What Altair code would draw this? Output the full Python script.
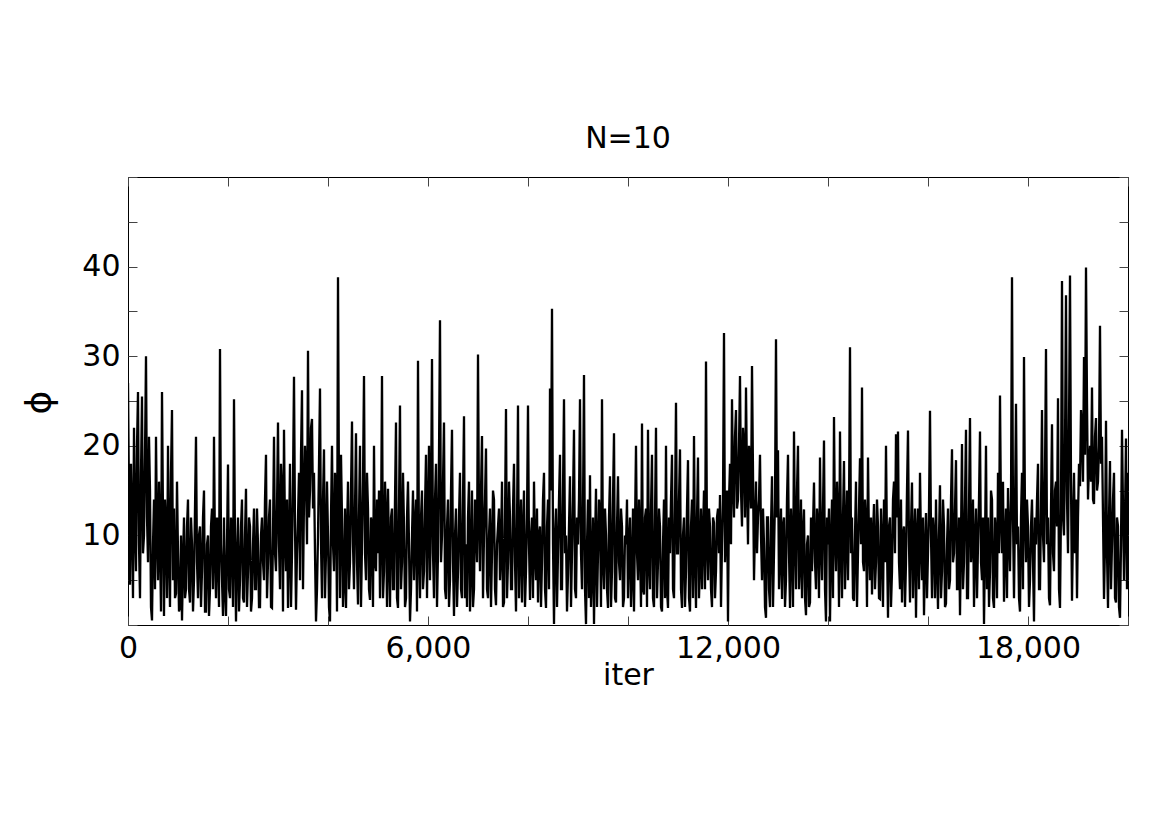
import altair as alt
import pandas as pd

# phi trace in 1,000-iteration blocks:
# "_a" lists are samples at iterations 0, 40, 80, ... of the block,
# "_b" lists are the samples 20 iterations after each "_a" sample.
phi_00k_a = [27, 4.5, 12, 22, 6, 26, 3, 25.5, 10, 30, 7, 15, 0.5, 14, 21, 5, 9, 26, 1, 11, 20, 2, 24, 13, 3.5]
phi_00k_b = [14, 18, 3, 11, 20, 9, 17, 8, 19, 12, 21, 2, 9, 4, 10, 16, 1.5, 12, 14, 3, 8, 17, 5, 3, 16]
phi_01k_a = [8, 2, 0.5, 12, 4, 14, 2.5, 9, 5, 21, 3, 11, 6, 15, 1.5, 10, 4, 13, 21, 3, 8, 30.8, 5, 12, 1]
phi_01k_b = [1.5, 10, 7, 3, 11, 4, 12, 1.5, 13, 7, 10, 2, 12, 1.5, 9, 1, 11, 4, 8, 12, 2, 9, 1, 4, 9]
phi_02k_a = [17.9, 3, 10, 25.2, 0.4, 12, 5, 14, 2.5, 15.2, 6, 11, 3, 13, 4, 9, 2, 12, 5, 19, 7, 14, 1.9, 21, 6]
phi_02k_b = [4, 12, 2, 9, 8, 1.5, 11, 3, 10, 2, 12, 1.5, 9, 4, 13, 2, 10, 7, 14, 3, 12, 2, 10, 8, 13]
phi_03k_a = [22.6, 4, 15, 21.8, 6, 1.9, 18, 8, 27.7, 1.7, 12, 5, 26.2, 14, 16, 30.6, 15, 23, 17, 0.4, 10, 26.4, 3, 19.6, 8]
phi_03k_b = [9, 18, 1.5, 10, 14, 9, 2, 16, 11, 8, 17, 19, 4, 20, 9, 12, 22, 13, 8, 4, 18, 9, 14, 3, 16]
phi_04k_a = [10, 0.4, 20, 6, 14, 38.8, 3, 12, 5, 1.9, 16, 7, 22.7, 4, 21.4, 2.3, 20, 9, 27.8, 5, 13, 2.8, 11, 20, 6]
phi_04k_b = [2, 12, 9, 17, 1.5, 14, 19, 2, 13, 10, 4, 15, 9, 13, 7, 12, 2, 16, 8, 17, 4, 12, 2, 7, 14]
phi_05k_a = [8, 3, 27.8, 6, 12, 15.2, 2, 13, 4, 22.6, 1.9, 24.5, 7, 11, 3, 16, 0.4, 10, 5, 14, 29.5, 3, 15, 6, 19]
phi_05k_b = [15, 10, 3, 16, 2, 8, 12, 4, 14, 3, 13, 4, 17, 2, 12, 9, 4, 15, 11, 1.5, 8, 12, 4, 13, 3]
phi_06k_a = [12, 5, 29.7, 3, 18, 8, 34, 10, 22.6, 2.9, 14, 5, 21.8, 1, 13, 6, 17, 3, 23.3, 9, 12, 1.5, 15, 4, 11]
phi_06k_b = [20, 13, 8, 14, 2, 19, 7, 16, 4, 11, 2, 15, 7, 10, 2, 12, 4, 14, 3, 2, 16, 7, 2, 14, 7]
phi_07k_a = [30.2, 6, 21.1, 10, 19.7, 3, 13, 8, 14, 2.2, 11, 5, 16, 2.5, 24.1, 7, 12, 4, 18, 1.5, 24.5, 9, 2.5, 15, 6]
phi_07k_b = [12, 15, 3, 14, 4, 10, 2, 15, 4, 9, 13, 8, 2, 12, 3, 16, 4, 13, 7, 11, 3, 14, 10, 2, 12]
phi_08k_a = [24.5, 2.8, 12, 16, 5, 2.5, 11, 7, 17, 1.9, 14, 26.4, 35.3, 0.1, 13, 8, 19, 4, 25.2, 10, 5.6, 16.6, 8, 21.8, 3]
phi_08k_b = [9, 10, 3, 8, 13, 10, 2, 14, 4, 11, 4, 15, 9, 10, 2, 14, 4, 15, 8, 1.5, 11, 2, 14, 4, 12]
phi_09k_a = [9, 25.2, 4, 27.9, 0.1, 14, 16.7, 6, 0.1, 15.2, 8, 12, 25.2, 4, 10, 1.9, 16.6, 6, 21.4, 2.5, 16.6, 5, 11, 3, 9]
phi_09k_b = [14, 8, 13, 4, 9, 3, 2, 12, 9, 2, 14, 2, 7, 13, 4, 12, 2, 14, 3, 11, 7, 13, 2, 10, 14]
phi_10k_a = [3, 12, 6, 1.5, 20, 5, 9, 22.5, 3.4, 13, 21.8, 4, 19, 2, 22, 7, 11, 1.5, 14, 20, 1.9, 8, 19, 3, 24.8]
phi_10k_b = [9, 2, 13, 11, 8, 14, 2, 4, 12, 2, 7, 13, 3, 12, 3, 13, 2, 9, 3, 4, 12, 14, 4, 13, 8]
phi_11k_a = [8, 19.6, 1.9, 12, 6, 18.4, 1.5, 14, 21.1, 1.9, 18.7, 7, 4, 15, 29.4, 5, 11, 2, 11.4, 6, 13, 14.5, 9, 32.6, 11]
phi_11k_b = [14, 4, 10, 2, 13, 3, 11, 3, 8, 12, 3, 13, 10, 4, 9, 13, 4, 12, 3, 12, 8, 2, 14, 7, 15]
phi_12k_a = [0.4, 18, 25.2, 12, 24, 14, 27.8, 11, 20, 26.5, 9, 17, 28.9, 5, 16, 12, 19, 5, 9, 0.8, 12, 2, 16.6, 8, 31.9]
phi_12k_b = [14, 9, 16, 21, 13, 20, 15, 22, 12, 16, 20, 13, 17, 11, 8, 14, 10, 13, 2, 12, 4, 11, 2, 14, 12]
phi_13k_a = [19.5, 8, 2.9, 12, 5, 19, 1.9, 9, 21.6, 4, 20, 7, 3, 12.9, 1.1, 10, 2.5, 6, 15.9, 4, 11, 18.7, 5, 20.6, 0.4]
phi_13k_b = [4, 13, 11, 2, 14, 8, 13, 2, 10, 15, 4, 14, 10, 3, 9, 2, 12, 11, 7, 13, 3, 9, 13, 4, 12]
phi_14k_a = [9, 0.4, 14, 23.2, 6, 12, 21.6, 3, 18.3, 10, 5, 31, 12, 2.7, 16, 8, 18.6, 26.5, 6, 11, 18.7, 5, 3.4, 13.5, 7]
phi_14k_b = [13, 9, 3, 10, 16, 2, 9, 12, 4, 15, 13, 8, 3, 10, 2, 13, 9, 7, 14, 2, 9, 12, 10, 4, 14]
phi_15k_a = [11, 2.9, 9, 14, 20, 0.8, 12, 6, 16, 21.3, 21.6, 4, 2.5, 11, 7, 21.7, 2.5, 15.9, 9, 0.8, 13, 17, 5, 1.1, 12.5]
phi_15k_b = [3, 13, 2, 7, 9, 11, 2, 14, 8, 12, 7, 14, 10, 2, 15, 9, 11, 3, 13, 10, 4, 9, 12, 8, 3]
phi_16k_a = [8, 23.9, 3, 10, 14, 1.8, 15.6, 6, 11, 2.4, 13, 5, 19.6, 8, 18.4, 4, 1.1, 20.2, 7, 21.8, 3, 23.1, 9, 2, 13]
phi_16k_b = [13, 10, 12, 3, 7, 10, 3, 14, 2, 9, 4, 14, 7, 13, 4, 12, 10, 4, 14, 3, 13, 7, 14, 9, 3]
phi_17k_a = [9, 21.6, 5, 0.1, 20, 12, 6, 14, 1.9, 10, 17, 25.6, 8, 2.6, 13, 15.3, 6, 38.8, 3, 24.7, 11, 1.5, 17, 29.9, 7]
phi_17k_b = [14, 7, 12, 9, 4, 2, 15, 3, 12, 3, 8, 12, 16, 9, 3, 10, 14, 12, 13, 9, 3, 12, 4, 12, 14]
phi_18k_a = [11, 5, 14, 0.4, 9, 18, 4, 24, 7, 30.8, 12, 2.2, 22.4, 6, 16, 25.3, 1.9, 38.4, 10, 36.8, 8, 39, 2.7, 17, 14]
phi_18k_b = [2, 11, 7, 12, 14, 4, 13, 10, 17, 9, 3, 13, 8, 15, 11, 4, 13, 12, 20, 14, 22, 16, 11, 8, 3]
phi_19k_a = [12, 15.5, 22, 29.9, 39.9, 14, 20, 26.5, 13.5, 23.1, 16, 33.4, 21, 2.9, 22.8, 1.9, 18.3, 9, 17, 2.5, 11, 0.8, 21.8, 5, 20.8]
phi_19k_b = [18, 24, 16, 19, 25, 18, 16, 14, 21, 15, 20, 18, 12, 9, 8, 12, 4, 14, 3, 12, 2, 9, 13, 12, 4]
phi_20k = [17]

BLOCK = 1000
STEP = 40
HALF = 20
x_ticks = [0, 2000, 4000, 6000, 8000, 10000, 12000, 14000, 16000, 18000, 20000]
x_labelled = [0, 6000, 12000, 18000]
y_ticks = [0, 5, 10, 15, 20, 25, 30, 35, 40, 45, 50]
y_labelled = [10, 20, 30, 40]

blocks = [
    (phi_00k_a, phi_00k_b), (phi_01k_a, phi_01k_b), (phi_02k_a, phi_02k_b), (phi_03k_a, phi_03k_b),
    (phi_04k_a, phi_04k_b), (phi_05k_a, phi_05k_b), (phi_06k_a, phi_06k_b), (phi_07k_a, phi_07k_b),
    (phi_08k_a, phi_08k_b), (phi_09k_a, phi_09k_b), (phi_10k_a, phi_10k_b), (phi_11k_a, phi_11k_b),
    (phi_12k_a, phi_12k_b), (phi_13k_a, phi_13k_b), (phi_14k_a, phi_14k_b), (phi_15k_a, phi_15k_b),
    (phi_16k_a, phi_16k_b), (phi_17k_a, phi_17k_b), (phi_18k_a, phi_18k_b), (phi_19k_a, phi_19k_b),
]
rows = []
for k, (a, b) in enumerate(blocks):
    for i, (va, vb) in enumerate(zip(a, b)):
        rows.append((k * BLOCK + i * STEP, va))
        rows.append((k * BLOCK + i * STEP + HALF, vb))
rows.append((len(blocks) * BLOCK, phi_20k[0]))
df = pd.DataFrame(rows, columns=["iter", "phi"])

FONT = "DejaVu Sans"
FS = 30
TICK = "#444444"
x_lab_expr = "indexof([" + ",".join(str(v) for v in x_labelled) + "], datum.value) >= 0 ? format(datum.value, ',') : ''"
y_lab_expr = "indexof([" + ",".join(str(v) for v in y_labelled) + "], datum.value) >= 0 ? datum.label : ''"

xscale = alt.Scale(domain=[0, 20000], nice=False, zero=False)
yscale = alt.Scale(domain=[0, 50], nice=False, zero=False)

main = alt.Chart(df).mark_line(color="black", strokeWidth=2.3, clip=True).encode(
    x=alt.X("iter:Q", scale=xscale,
            axis=alt.Axis(orient="bottom", values=x_ticks, labelExpr=x_lab_expr,
                          offset=-9, tickSize=9, domain=False, grid=False,
                          labelPadding=8, labelFlush=False, labelOverlap=False,
                          labelFont=FONT, labelFontSize=FS, labelColor="black",
                          title="iter", titleY=68, titleBaseline="alphabetic",
                          titleFont=FONT, titleFontSize=FS, titleColor="black",
                          titleFontWeight="normal",
                          tickColor=TICK, tickWidth=1)),
    y=alt.Y("phi:Q", scale=yscale,
            axis=alt.Axis(orient="left", values=y_ticks, labelExpr=y_lab_expr,
                          offset=-9, tickSize=9, domain=False, grid=False,
                          labelPadding=8, labelOverlap=False,
                          labelFont=FONT, labelFontSize=FS, labelColor="black",
                          title="ϕ", titleX=-98, titleY=225, titleAngle=270,
                          titleBaseline="middle", titleAlign="center",
                          titleFont=FONT, titleFontSize=36, titleColor="black",
                          titleFontWeight="normal",
                          tickColor=TICK, tickWidth=1)),
)

frame = alt.Chart(df).mark_line(opacity=0).encode(
    x=alt.X("iter:Q", scale=xscale,
            axis=alt.Axis(orient="top", values=x_ticks, labels=False, offset=-9,
                          tickSize=9, domain=False, grid=False, title=None,
                          tickColor=TICK, tickWidth=1)),
    y=alt.Y("phi:Q", scale=yscale,
            axis=alt.Axis(orient="right", values=y_ticks, labels=False, offset=-9,
                          tickSize=9, domain=False, grid=False, title=None,
                          tickColor=TICK, tickWidth=1)),
)

chart = alt.layer(main, frame).resolve_axis(x="independent", y="independent").properties(
    width=1000,
    height=448,
    autosize=alt.AutoSizeParams(type="none"),
    padding={"left": 120, "top": 169, "right": 34, "bottom": 150},
    title=alt.TitleParams("N=10", font=FONT, fontSize=FS, fontWeight="normal",
                          color="black", anchor="middle", baseline="alphabetic",
                          frame="group", offset=27, dy=43),
).configure_view(stroke="black", strokeWidth=1)

chart.save("out.html", embed_options={"renderer": "svg", "actions": False})
